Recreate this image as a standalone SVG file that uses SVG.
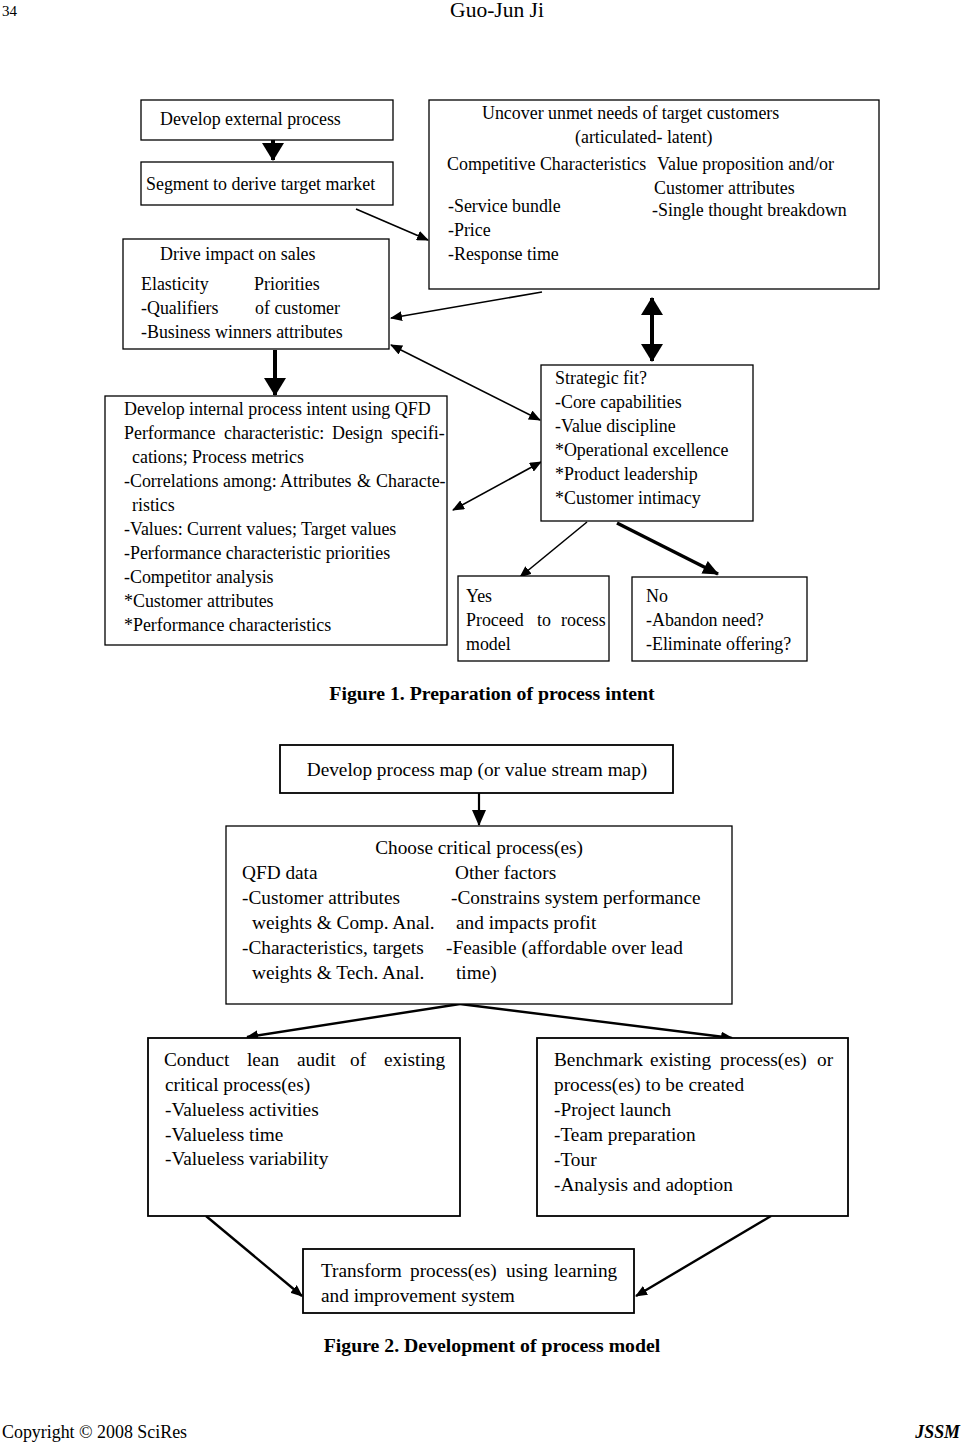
<svg xmlns="http://www.w3.org/2000/svg" width="962" height="1443" viewBox="0 0 962 1443">
<style>
text{font-family:"Liberation Serif","Times New Roman",serif;font-size:17.9px;fill:#000}
.f2{font-size:19.3px}
.cap{font-size:19.8px;font-weight:bold}
.box{fill:#fff;stroke:#000;stroke-width:1.3}
.c{fill:none;stroke:#000;stroke-width:1.6}
.t{fill:none;stroke:#000;stroke-width:4}
.m{fill:none;stroke:#000;stroke-width:2.4}
</style>
<defs>
<marker id="a" viewBox="0 0 12 10" refX="11" refY="5" markerWidth="12" markerHeight="10" markerUnits="userSpaceOnUse" orient="auto-start-reverse"><path d="M0,0L12,5L0,10z" fill="#000"/></marker>
<marker id="b" viewBox="0 0 16 14" refX="15" refY="7" markerWidth="16" markerHeight="14" markerUnits="userSpaceOnUse" orient="auto-start-reverse"><path d="M0,0L16,7L0,14z" fill="#000"/></marker>
<marker id="big" viewBox="0 0 18 22" refX="17" refY="11" markerWidth="18" markerHeight="22" markerUnits="userSpaceOnUse" orient="auto-start-reverse"><path d="M0,0L18,11L0,22z" fill="#000"/></marker>
</defs>
<g id="header">
<text x="2" y="16" style="font-size:15px">34</text>
<text x="497" y="17" text-anchor="middle" style="font-size:21.5px">Guo-Jun Ji</text>
</g>
<g id="connectors">
<path class="t" d="M273,140V160" marker-end="url(#big)"/>
<path class="c" d="M356,209L428,240" marker-end="url(#a)"/>
<path class="c" d="M542,292L391,318" marker-end="url(#a)"/>
<path class="t" d="M652,298V361" marker-start="url(#big)" marker-end="url(#big)"/>
<path class="c" d="M391,345L540,420" marker-start="url(#a)" marker-end="url(#a)"/>
<path class="t" d="M275,350V395" marker-end="url(#big)"/>
<path class="c" d="M453,510L541,462" marker-start="url(#a)" marker-end="url(#a)"/>
<path class="c" d="M587,522L520,577" marker-end="url(#a)"/>
<path class="t" d="M617,523L718,574" style="stroke-width:3.5" marker-end="url(#b)"/>
<path class="c" d="M479,788V825" style="stroke-width:2.2" marker-end="url(#b)"/>
<path class="m" d="M460,1004L247,1037" marker-end="url(#a)"/>
<path class="m" d="M460,1004L732,1038" marker-end="url(#a)"/>
<path class="m" d="M206,1216L302,1296" marker-end="url(#a)"/>
<path class="m" d="M771,1216L636,1296" marker-end="url(#a)"/>
</g>
<g id="n-develop-external">
<rect class="box" x="141" y="100" width="252" height="40"/>
<text x="160" y="125">Develop external process</text>
</g>
<g id="n-segment">
<rect class="box" x="141" y="162" width="252" height="43"/>
<text x="146" y="190">Segment to derive target market</text>
</g>
<g id="n-uncover">
<rect class="box" x="429" y="100" width="450" height="189"/>
<text x="482" y="119">Uncover unmet needs of target customers</text>
<text x="575" y="143">(articulated- latent)</text>
<text x="447" y="170">Competitive Characteristics</text>
<text x="657" y="170">Value proposition and/or</text>
<text x="654" y="194">Customer attributes</text>
<text x="448" y="212">-Service bundle</text>
<text x="652" y="216">-Single thought breakdown</text>
<text x="448" y="236">-Price</text>
<text x="448" y="260">-Response time</text>
</g>
<g id="n-drive">
<rect class="box" x="123" y="239" width="266" height="110"/>
<text x="160" y="260">Drive impact on sales</text>
<text x="141" y="290">Elasticity</text>
<text x="254" y="290">Priorities</text>
<text x="141" y="314">-Qualifiers</text>
<text x="255" y="314">of customer</text>
<text x="141" y="338">-Business winners  attributes</text>
</g>
<g id="n-qfd">
<rect class="box" x="105" y="396" width="342" height="249"/>
<text x="124" y="415">Develop internal process intent using QFD</text>
<text y="439"><tspan x="124">Performance</tspan><tspan x="224">characteristic:</tspan><tspan x="332">Design</tspan><tspan x="391">specifi-</tspan></text>
<text x="132" y="463">cations; Process metrics</text>
<text y="487"><tspan x="124">-Correlations</tspan><tspan x="223">among:</tspan><tspan x="280">Attributes</tspan><tspan x="357">&amp;</tspan><tspan x="376">Characte-</tspan></text>
<text x="132" y="511">ristics</text>
<text x="124" y="535">-Values: Current values; Target values</text>
<text x="124" y="559">-Performance characteristic priorities</text>
<text x="124" y="583">-Competitor analysis</text>
<text x="124" y="607">*Customer attributes</text>
<text x="124" y="631">*Performance characteristics</text>
</g>
<g id="n-strategic">
<rect class="box" x="541" y="365" width="212" height="156"/>
<text x="555" y="384">Strategic fit?</text>
<text x="555" y="408">-Core capabilities</text>
<text x="555" y="432">-Value discipline</text>
<text x="555" y="456">*Operational excellence</text>
<text x="555" y="480">*Product leadership</text>
<text x="555" y="504">*Customer intimacy</text>
</g>
<g id="n-yes">
<rect class="box" x="458" y="576" width="151" height="85"/>
<text x="466" y="602">Yes</text>
<text y="626"><tspan x="466">Proceed</tspan><tspan x="537">to</tspan><tspan x="561">rocess</tspan></text>
<text x="466" y="650">model</text>
</g>
<g id="n-no">
<rect class="box" x="632" y="577" width="175" height="84"/>
<text x="646" y="602">No</text>
<text x="646" y="626">-Abandon need?</text>
<text x="646" y="650">-Eliminate offering?</text>
</g>
<text class="cap" x="492" y="700" text-anchor="middle">Figure 1. Preparation of process intent</text>
<g id="n-map">
<rect class="box" x="280" y="745" width="393" height="48" style="stroke-width:1.8"/>
<text class="f2" x="477" y="776" text-anchor="middle">Develop process map (or value stream map)</text>
</g>
<g id="n-choose">
<rect class="box" x="226" y="826" width="506" height="178"/>
<text class="f2" x="479" y="854" text-anchor="middle">Choose critical process(es)</text>
<text class="f2" x="242" y="879">QFD data</text>
<text class="f2" x="455" y="879">Other factors</text>
<text class="f2" x="242" y="904">-Customer attributes</text>
<text class="f2" x="451" y="904">-Constrains system performance</text>
<text class="f2" x="252" y="929">weights &amp; Comp. Anal.</text>
<text class="f2" x="456" y="929">and impacts profit</text>
<text class="f2" x="242" y="954">-Characteristics, targets</text>
<text class="f2" x="446" y="954">-Feasible (affordable over lead</text>
<text class="f2" x="252" y="979">weights &amp; Tech. Anal.</text>
<text class="f2" x="456" y="979">time)</text>
</g>
<g id="n-conduct">
<rect class="box" x="148" y="1038" width="312" height="178" style="stroke-width:1.8"/>
<text class="f2" y="1066"><tspan x="164">Conduct</tspan><tspan x="247">lean</tspan><tspan x="297">audit</tspan><tspan x="350">of</tspan><tspan x="384">existing</tspan></text>
<text class="f2" x="165" y="1091">critical process(es)</text>
<text class="f2" x="165" y="1116">-Valueless activities</text>
<text class="f2" x="165" y="1141">-Valueless time</text>
<text class="f2" x="165" y="1165">-Valueless variability</text>
</g>
<g id="n-benchmark">
<rect class="box" x="537" y="1038" width="311" height="178" style="stroke-width:1.8"/>
<text class="f2" y="1066"><tspan x="554">Benchmark</tspan><tspan x="650">existing</tspan><tspan x="720">process(es)</tspan><tspan x="817">or</tspan></text>
<text class="f2" x="554" y="1091">process(es) to be created</text>
<text class="f2" x="554" y="1116">-Project launch</text>
<text class="f2" x="554" y="1141">-Team preparation</text>
<text class="f2" x="554" y="1166">-Tour</text>
<text class="f2" x="554" y="1191">-Analysis and adoption</text>
</g>
<g id="n-transform">
<rect class="box" x="303" y="1249" width="331" height="64" style="stroke-width:1.8"/>
<text class="f2" y="1277"><tspan x="321">Transform</tspan><tspan x="410">process(es)</tspan><tspan x="506">using</tspan><tspan x="554">learning</tspan></text>
<text class="f2" x="321" y="1302">and improvement system</text>
</g>
<text class="cap" x="492" y="1352" text-anchor="middle">Figure 2. Development of process model</text>
<g id="footer">
<text x="2" y="1438">Copyright © 2008 SciRes</text>
<text x="960" y="1438" text-anchor="end" style="font-weight:bold;font-style:italic">JSSM</text>
</g>
</svg>
